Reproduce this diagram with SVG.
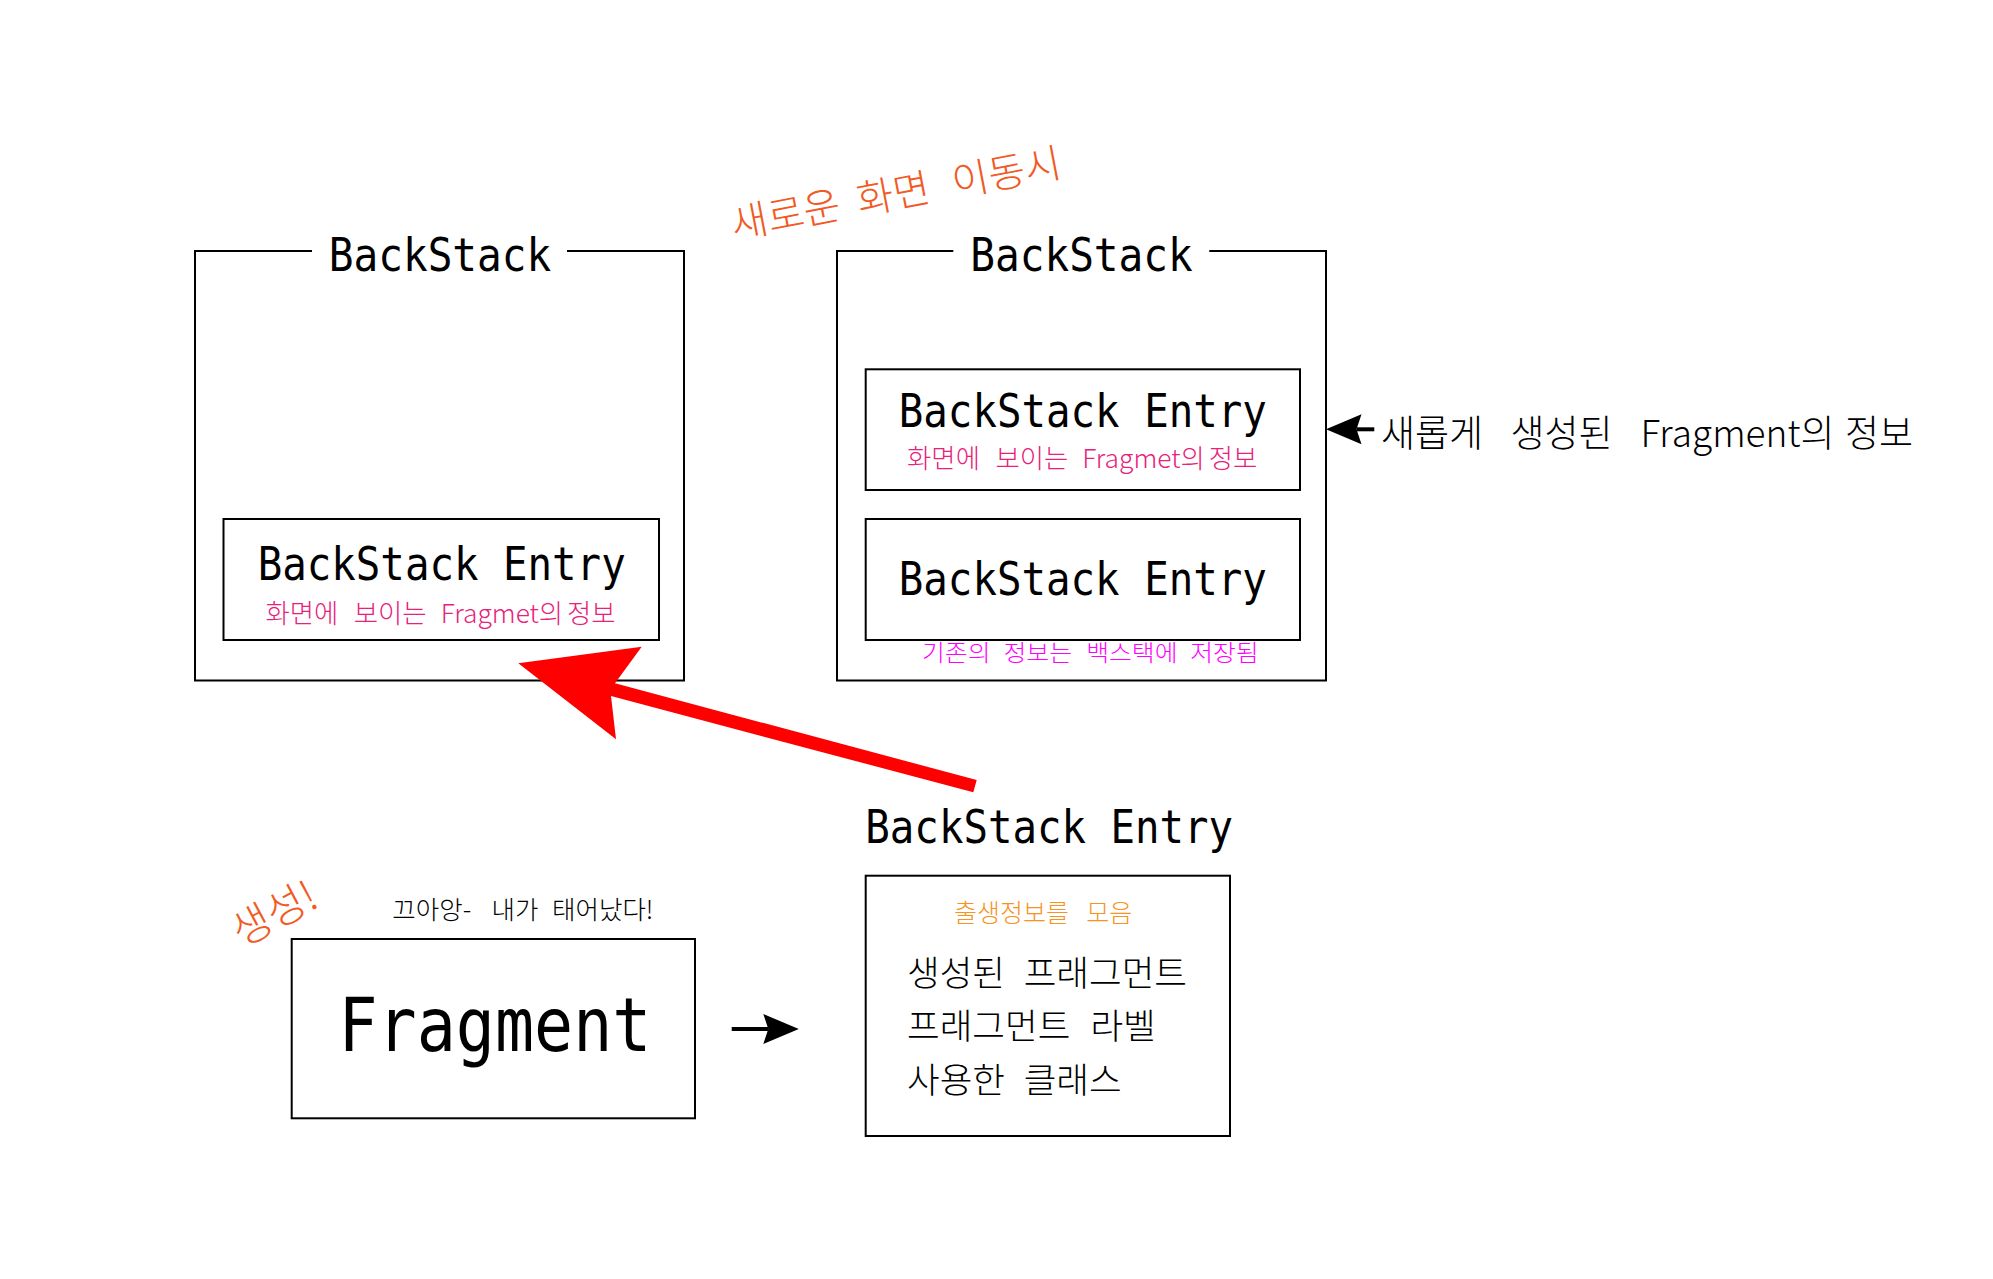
<svg xmlns="http://www.w3.org/2000/svg" width="1993" height="1279" viewBox="0 0 1993 1279">
  <style>
    .box { fill: none; stroke: #000; stroke-width: 2; }
    .mono { font-family: "DejaVu Sans Mono", "Noto Sans CJK KR", monospace; fill: #000; }
    .kr { font-family: "Noto Sans CJK KR", "Noto Sans", sans-serif; font-weight: 300; }
    .pink { fill: #E8217A; }
    .magenta { fill: #FF00FF; }
    .orange { fill: #F7931E; }
    .redorange { fill: #F15A24; }
    .black { fill: #000; }
    .conn { stroke: #000; stroke-width: 4; fill: none; }
  </style>
  <defs>
    <marker id="head" markerUnits="userSpaceOnUse" viewBox="0 -16 37 32" refX="5" refY="0" markerWidth="37" markerHeight="32" orient="auto" overflow="visible">
      <path d="M0,-15 L35.5,0 L0,15 L5,0 Z" fill="#000"/>
    </marker>
  </defs>
  <rect width="1993" height="1279" fill="#fff"/>

  <!-- Left BackStack -->
  <g id="backstack-left">
    <path class="box" d="M312,251 H195 V680.5 H684 V251 H567"/>
    <text class="mono" x="440" y="270.5" font-size="47" text-anchor="middle" textLength="222.5" lengthAdjust="spacingAndGlyphs">BackStack</text>
  </g>
  <g id="entry-left">
    <rect class="box" x="223.5" y="519" width="435.5" height="121"/>
    <text class="mono" x="441.7" y="580" font-size="47" text-anchor="middle" textLength="368" lengthAdjust="spacingAndGlyphs">BackStack Entry</text>
    <text class="kr pink" y="623.2" font-size="26.4"><tspan x="265.5">화면에 </tspan><tspan x="353.8">보이는 </tspan><tspan x="440.7">Fragmet의 </tspan><tspan x="567.1">정보</tspan></text>
  </g>

  <!-- Right BackStack -->
  <g id="backstack-right">
    <path class="box" d="M953.3,251 H837 V680.5 H1326 V251 H1209.3"/>
    <text class="mono" x="1081.5" y="270.5" font-size="47" text-anchor="middle" textLength="222.5" lengthAdjust="spacingAndGlyphs">BackStack</text>
  </g>
  <g id="entry-right-new">
    <rect class="box" x="865.7" y="369.3" width="434.3" height="120.7"/>
    <text class="mono" x="1082.8" y="426.5" font-size="47" text-anchor="middle" textLength="368" lengthAdjust="spacingAndGlyphs">BackStack Entry</text>
    <text class="kr pink" y="468" font-size="26.4"><tspan x="907.1">화면에 </tspan><tspan x="995.4">보이는 </tspan><tspan x="1082.3">Fragmet의 </tspan><tspan x="1208.7">정보</tspan></text>
  </g>
  <g id="entry-right-old">
    <rect class="box" x="865.7" y="519" width="434.3" height="121"/>
    <text class="mono" x="1082.8" y="595" font-size="47" text-anchor="middle" textLength="368" lengthAdjust="spacingAndGlyphs">BackStack Entry</text>
    <text class="kr magenta" transform="translate(922,660.5) scale(1.08,1)" y="0" font-size="23"><tspan x="0">기존의 </tspan><tspan x="75.5">정보는 </tspan><tspan x="152">백스택에 </tspan><tspan x="248.3">저장됨</tspan></text>
  </g>

  <!-- Label: new fragment info -->
  <g id="label-new-info">
    <text class="kr black" y="447" font-size="37"><tspan x="1381">새롭게 </tspan><tspan x="1510.5">생성된 </tspan><tspan x="1640.5">Fragment의 </tspan><tspan x="1845">정보</tspan></text>
  </g>

  <!-- Label: screen move (rotated) -->
  <g id="label-move" transform="translate(734,239) rotate(-10.8)">
    <text class="kr redorange" y="0" font-size="40"><tspan x="0">새로운 </tspan><tspan x="128">화면 </tspan><tspan x="225">이동시</tspan></text>
  </g>

  <!-- Fragment -->
  <g id="label-create" transform="translate(241.5,947.7) rotate(-28)">
    <text class="kr redorange" x="0" y="0" font-size="42">생성!</text>
  </g>
  <g id="label-born">
    <text class="kr black" y="919" font-size="25.5"><tspan x="392.3">끄아앙- </tspan><tspan x="491.5">내가 </tspan><tspan x="552">태어났다!</tspan></text>
  </g>
  <g id="fragment">
    <rect class="box" x="291.7" y="939" width="403.3" height="179.3"/>
    <text class="mono" x="495" y="1050.7" font-size="75" text-anchor="middle" textLength="313" lengthAdjust="spacingAndGlyphs">Fragment</text>
  </g>

  <!-- New BackStack Entry -->
  <g id="entry-new">
    <text class="mono" x="1049.2" y="843.3" font-size="46" text-anchor="middle" textLength="367.7" lengthAdjust="spacingAndGlyphs">BackStack Entry</text>
    <rect class="box" x="865.7" y="875.7" width="364.3" height="260.3"/>
    <text class="kr orange" y="922.2" font-size="25"><tspan x="954">출생정보를 </tspan><tspan x="1086.3">모음</tspan></text>
    <text class="kr black" y="985.8" font-size="35.5"><tspan x="907">생성된 </tspan><tspan x="1023.7">프래그먼트</tspan></text>
    <text class="kr black" y="1039.2" font-size="35.5"><tspan x="907">프래그먼트 </tspan><tspan x="1090.4">라벨</tspan></text>
    <text class="kr black" y="1092.5" font-size="35.5"><tspan x="907">사용한 </tspan><tspan x="1023.7">클래스</tspan></text>
  </g>

  <!-- Connectors -->
  <g id="connectors">
    <line class="conn" x1="1374.3" y1="429.3" x2="1356.5" y2="429.3" marker-end="url(#head)"/>
    <line class="conn" x1="731.7" y1="1029" x2="768.3" y2="1029" marker-end="url(#head)"/>
    <polygon fill="#FF0000" points="518.3,663.3 641.7,646.7 615,683.3 976.7,780 973.3,792.3 611,696 616,739.3"/>
  </g>
</svg>
